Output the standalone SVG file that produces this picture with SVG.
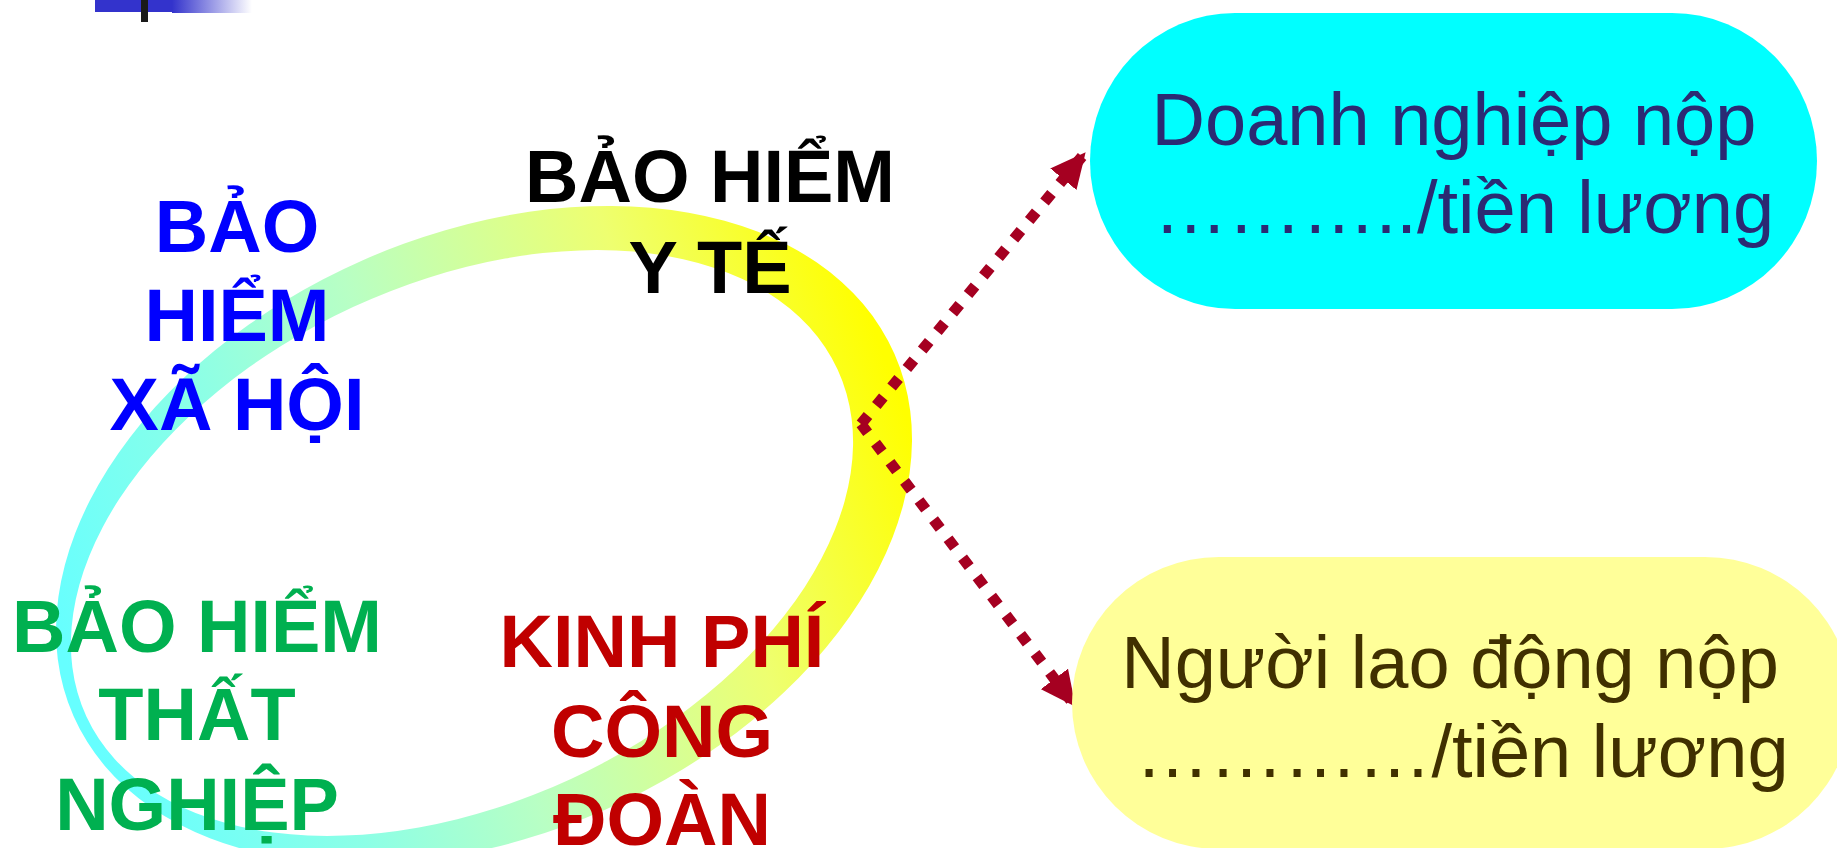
<svg xmlns="http://www.w3.org/2000/svg" width="1837" height="848" viewBox="0 0 1837 848">
<defs>
<style>
.lbl{font-family:"Liberation Sans",Arial,sans-serif;font-weight:bold;font-size:74px;text-anchor:middle}
.box{font-family:"Liberation Sans",Arial,sans-serif;font-size:74px;text-anchor:middle}
.conn{fill:none;stroke:#A50021;stroke-width:11;stroke-dasharray:11 13}
</style>
<linearGradient id="ringGrad" gradientUnits="userSpaceOnUse" x1="80" y1="700" x2="900" y2="400">
<stop offset="0" stop-color="#66FFFF"/>
<stop offset="0.25" stop-color="#8CFFE6"/>
<stop offset="0.45" stop-color="#B8FFC4"/>
<stop offset="0.75" stop-color="#EEFF70"/>
<stop offset="1" stop-color="#FFFF00"/>
</linearGradient>
<linearGradient id="barGrad" x1="0" y1="0" x2="1" y2="0">
<stop offset="0" stop-color="#3333CC"/>
<stop offset="1" stop-color="#FFFFFF"/>
</linearGradient>
<marker id="head" markerUnits="userSpaceOnUse" viewBox="0 0 35 34" markerWidth="35" markerHeight="34" refX="34" refY="17" orient="auto">
<path d="M0,0 L35,17 L0,34 z" fill="#A50021"/>
</marker>
</defs>
<rect x="0" y="0" width="1837" height="848" fill="#FFFFFF"/>
<g id="title-bar">
<rect x="95" y="0" width="77" height="12" fill="#3333CC"/>
<rect x="172" y="0" width="80" height="13" fill="url(#barGrad)"/>
<rect x="141" y="0" width="7" height="22" fill="#1A1A1A"/>
</g>
<g id="ring">
<path fill="url(#ringGrad)" fill-rule="evenodd" d="M894.5,354 A448.6,300.3 -23.8 1 1 73.5,716 A448.6,300.3 -23.8 1 1 894.5,354 Z M837.6,369.5 A413.7,259.9 -24.8 1 1 86.4,716.5 A413.7,259.9 -24.8 1 1 837.6,369.5 Z"/>
</g>
<g id="node-bhyt">
<text class="lbl" x="710" y="202" fill="#000000">BẢO HIỂM</text>
<text class="lbl" x="710" y="293" fill="#000000">Y TẾ</text>
</g>
<g id="node-bhxh">
<text class="lbl" x="237" y="252" fill="#0000FF">BẢO</text>
<text class="lbl" x="237" y="341" fill="#0000FF">HIỂM</text>
<text class="lbl" x="237" y="430" fill="#0000FF">XÃ HỘI</text>
</g>
<g id="node-bhtn">
<text class="lbl" x="197" y="652" fill="#00B050">BẢO HIỂM</text>
<text class="lbl" x="197" y="740" fill="#00B050">THẤT</text>
<text class="lbl" x="197" y="830" fill="#00B050">NGHIỆP</text>
</g>
<g id="node-kpcd">
<text class="lbl" x="662" y="667" fill="#C00000">KINH PHÍ</text>
<text class="lbl" x="662" y="757" fill="#C00000">CÔNG</text>
<text class="lbl" x="662" y="845" fill="#C00000">ĐOÀN</text>
</g>
<g id="connectors">
<line class="conn" x1="861" y1="424" x2="1085" y2="153" marker-end="url(#head)"/>
<line class="conn" x1="861" y1="424" x2="1075" y2="706" marker-end="url(#head)"/>
</g>
<g id="node-doanh-nghiep">
<rect x="1090" y="13" width="727" height="296" rx="145" ry="148" fill="#00FFFF"/>
<text class="box" x="1454" y="145" fill="#2B2A73">Doanh nghiệp nộp</text>
<text class="box" x="1464" y="233" fill="#2B2A73">………../tiền lương</text>
</g>
<g id="node-nguoi-lao-dong">
<rect x="1072" y="557" width="780" height="292" rx="147" ry="146" fill="#FFFF99"/>
<text class="box" x="1450" y="688" fill="#403000">Người lao động nộp</text>
<text class="box" x="1462" y="777" fill="#403000">…………/tiền lương</text>
</g>
</svg>
